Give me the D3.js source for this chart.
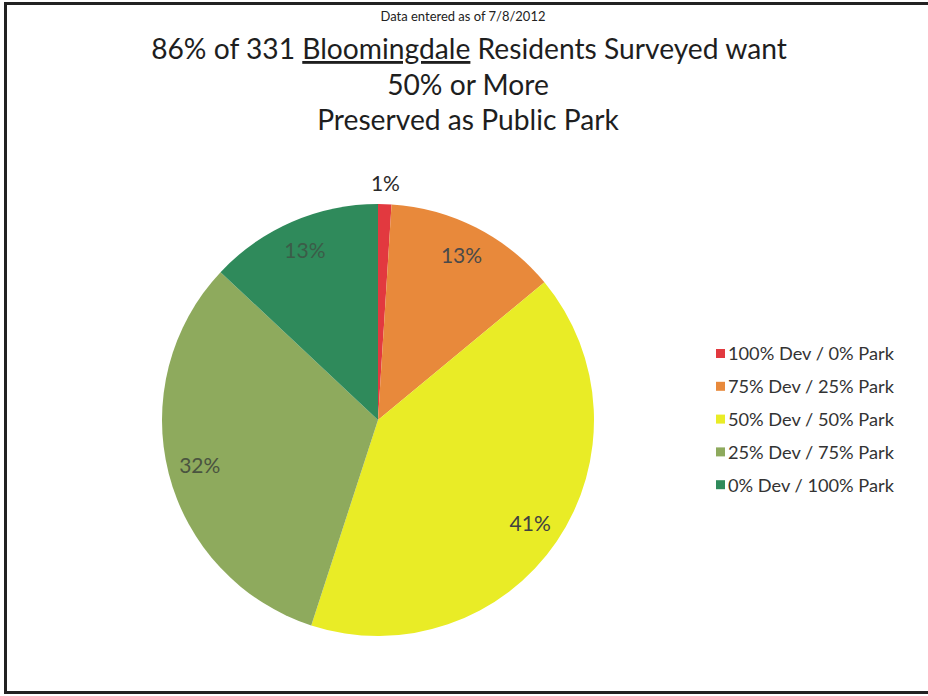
<!DOCTYPE html>
<html>
<head>
<meta charset="utf-8">
<script src="https://cdn.jsdelivr.net/npm/d3@7"></script>
<style>
  body { margin: 0; background: #fff; }
  svg { display: block; font-family: Lato, "Open Sans", sans-serif; }
</style>
</head>
<body>
<svg id="chart" width="928" height="696"></svg>
<script>
// survey data
const categories = ['100% Dev / 0% Park', '75% Dev / 25% Park', '50% Dev / 50% Park', '25% Dev / 75% Park', '0% Dev / 100% Park'];
const values = [1, 13, 41, 32, 13];
const colors = ['#e2393f', '#e8893b', '#e9ec26', '#8eaa5d', '#2f8a5b'];
const labelColors = ['#2a2a2a', '#4a4a4a', '#404040', '#4a5440', '#3b5c48'];

const svg = d3.select('#chart');

// frame
svg.append('path')
    .attr('d', 'M930,3.5 H5.5 V692.5 H930')
    .attr('fill', 'none')
    .attr('stroke', '#222')
    .attr('stroke-width', 3);

// squeeze text to the reference width (Calibri metrics differ)
function fitWidth(sel, target) {
    const w = sel.node().getComputedTextLength();
    const fs = parseFloat(sel.style('font-size'));
    sel.style('font-size', (fs * target / w) + 'px');
}

const sub = svg.append('text')
    .attr('x', 463).attr('y', 21)
    .attr('text-anchor', 'middle')
    .style('font-size', '11px')
    .attr('fill', '#222')
    .text('Data entered as of 7/8/2012');
fitWidth(sub, 165);

const title = svg.append('text')
    .attr('x', 469).attr('y', 59)
    .attr('text-anchor', 'middle')
    .attr('fill', '#1e1e1e')
    .style('font-size', '24px');
title.append('tspan').text('86% of 331 ');
title.append('tspan').style('text-decoration', 'underline').text('Bloomingdale');
title.append('tspan').text(' Residents Surveyed want');
fitWidth(title, 636);
const titleSize = title.style('font-size');

svg.append('text')
    .attr('x', 468).attr('y', 95)
    .attr('text-anchor', 'middle')
    .attr('fill', '#1e1e1e')
    .style('font-size', titleSize)
    .text('50% or More');

svg.append('text')
    .attr('x', 468).attr('y', 130)
    .attr('text-anchor', 'middle')
    .attr('fill', '#1e1e1e')
    .style('font-size', titleSize)
    .text('Preserved as Public Park');

// pie
const cx = 378, cy = 420, radius = 216;
const pie = d3.pie().sort(null).value(d => d)(values);
const arc = d3.arc().innerRadius(0).outerRadius(radius);
const labelArc = d3.arc().innerRadius(184).outerRadius(184);
const outerArc = d3.arc().innerRadius(236).outerRadius(236);

const g = svg.append('g').attr('transform', `translate(${cx},${cy})`);

g.selectAll('path.slice')
    .data(pie)
    .join('path')
    .attr('class', 'slice')
    .attr('d', arc)
    .attr('fill', (d, i) => colors[i]);

g.selectAll('text.lbl')
    .data(pie)
    .join('text')
    .attr('class', 'lbl')
    .attr('transform', d => `translate(${(d.data < 5 ? outerArc : labelArc).centroid(d)})`)
    .attr('text-anchor', 'middle')
    .attr('dy', '0.35em')
    .attr('fill', (d, i) => labelColors[i])
    .style('font-size', '21px')
    .text(d => d.data + '%');

// legend
const legend = svg.append('g').attr('transform', 'translate(716,354)');
const rows = legend.selectAll('g')
    .data(categories)
    .join('g')
    .attr('transform', (d, i) => `translate(0,${i * 32.8})`);
rows.append('rect')
    .attr('x', 0).attr('y', -5)
    .attr('width', 9).attr('height', 9)
    .attr('fill', (d, i) => colors[i]);
const legendText = rows.append('text')
    .attr('x', 12)
    .attr('dy', '0.35em')
    .attr('fill', '#333')
    .style('font-size', '16px')
    .text(d => d);
const w0 = legendText.node().getComputedTextLength();
legendText.style('font-size', (16 * 166 / w0) + 'px');
</script>
</body>
</html>
